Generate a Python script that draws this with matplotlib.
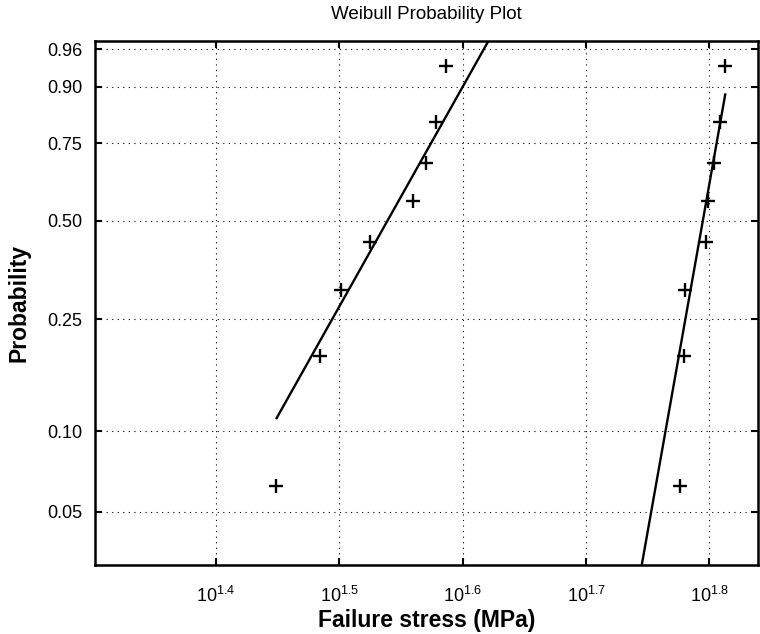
import numpy as np
import matplotlib
matplotlib.use('Agg')
import matplotlib.pyplot as plt
from matplotlib.ticker import FixedLocator, NullLocator

# Failure stress data (MPa), two sample sets, 8 specimens each
stress_a = [28.1, 30.5, 31.7, 33.5, 36.3, 37.2, 37.9, 38.6]
stress_b = [59.7, 60.2, 60.3, 62.7, 62.9, 63.6, 64.3, 65.0]

y_ticks = [0.05, 0.10, 0.25, 0.50, 0.75, 0.90, 0.96]
x_tick_exps = [1.4, 1.5, 1.6, 1.7, 1.8]

plt.rcParams['font.family'] = ['Liberation Sans', 'DejaVu Sans']
plt.rcParams['mathtext.fontset'] = 'custom'
plt.rcParams['mathtext.rm'] = 'Liberation Sans'
plt.rcParams['mathtext.it'] = 'Liberation Sans'

P_LO, P_HI = 0.03142, 0.96844


def wbl_fwd(p):
    p = np.clip(p, 1e-12, 1 - 1e-12)
    return np.log(-np.log(1 - p))


def wbl_inv(y):
    return 1 - np.exp(-np.exp(y))


def plot_positions(n):
    return (np.arange(1, n + 1) - 0.5) / n


def prct(v, q):
    # matlab style percentile
    v = np.sort(v)
    n = len(v)
    pos = 100 * (np.arange(1, n + 1) - 0.5) / n
    return np.interp(q, pos, v)


fig = plt.figure(figsize=(7.6, 6.34), dpi=100)
ax = fig.add_axes([0.125, 0.109, 0.873, 0.826])
ax.set_xscale('log')
ax.set_yscale('function', functions=(wbl_fwd, wbl_inv))

all_logx = np.log10(np.concatenate([stress_a, stress_b]))
minx, maxx = all_logx.min(), all_logx.max()
ylo_t, yhi_t = wbl_fwd(P_LO), wbl_fwd(P_HI)

for data in (stress_a, stress_b):
    x = np.log10(np.sort(data))
    p = plot_positions(len(x))
    y = wbl_fwd(p)
    ax.plot(10 ** x, p, '+', color='k', markersize=10, markeredgewidth=1.7)

    # reference line through 1st and 3rd quartiles, over the full data range
    q1x, q3x = prct(x, 25), prct(x, 75)
    q1y, q3y = prct(y, 25), prct(y, 75)
    slope = (q3y - q1y) / (q3x - q1x)
    cx, cy = (q1x + q3x) / 2, (q1y + q3y) / 2
    # cut the segment where it leaves the y range
    x0 = max(minx, cx + (ylo_t - cy) / slope)
    x1 = min(maxx, cx + (yhi_t - cy) / slope)
    lx = np.array([x0, x1])
    ly = cy + slope * (lx - cx)
    ax.plot(10 ** lx, wbl_inv(ly), '-', color='k', linewidth=1.7,
            solid_capstyle='butt')

ax.set_xlim(10 ** 1.302, 10 ** 1.8397)
ax.set_ylim(P_LO, P_HI)

ax.xaxis.set_major_locator(FixedLocator([10 ** e for e in x_tick_exps]))
ax.xaxis.set_minor_locator(NullLocator())
ax.set_xticklabels([r'$10^{%.1f}$' % e for e in x_tick_exps])
ax.yaxis.set_major_locator(FixedLocator(y_ticks))
ax.yaxis.set_minor_locator(NullLocator())
ax.set_yticklabels(['%.2f' % t for t in y_ticks])

ax.grid(True, which='major', linestyle=(0, (1, 4)), color='k', linewidth=0.8)
ax.tick_params(direction='in', length=5, width=1.5, top=True, right=True,
               labelsize=13)
ax.tick_params(axis='y', pad=9)
ax.tick_params(axis='x', pad=15)
for s in ax.spines.values():
    s.set_linewidth(1.8)

ax.set_title('Weibull Probability Plot', fontsize=13.5, pad=16)
ax.set_xlabel('Failure stress (MPa)', fontsize=16.5, fontweight='bold')
ax.set_ylabel('Probability', fontsize=16.5, fontweight='bold')
ax.xaxis.set_label_coords(0.5, -0.084)
ax.yaxis.set_label_coords(-0.097, 0.5)

fig.savefig('out.png', dpi=100)
